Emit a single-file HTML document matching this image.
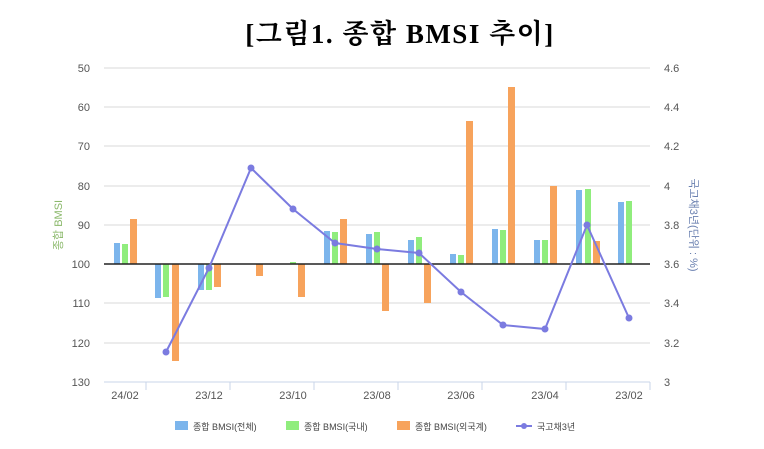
<!DOCTYPE html>
<html><head><meta charset="utf-8"><style>
body{margin:0;background:#fff;width:764px;height:444px;overflow:hidden}
svg text{font-family:"Liberation Sans","Noto Sans CJK KR",sans-serif}
</style></head><body>
<svg width="764" height="444" xmlns="http://www.w3.org/2000/svg">
<text x="400" y="43" text-anchor="middle" font-size="27" font-weight="bold" letter-spacing="1.5" style="font-family:'Liberation Serif','Noto Serif CJK SC',serif">[그림1.  종합  BMSI  추이]</text>
<g stroke="#d8d8d8" stroke-width="1">
<line x1="104" y1="68" x2="650" y2="68"/><line x1="104" y1="107" x2="650" y2="107"/>
<line x1="104" y1="146" x2="650" y2="146"/><line x1="104" y1="186" x2="650" y2="186"/>
<line x1="104" y1="225" x2="650" y2="225"/><line x1="104" y1="303" x2="650" y2="303"/>
<line x1="104" y1="343" x2="650" y2="343"/>
</g>
<line x1="104" y1="382" x2="650" y2="382" stroke="#c8d4e8"/>
<g stroke="#c8d4e8"><line x1="146" y1="382" x2="146" y2="390"/><line x1="230" y1="382" x2="230" y2="390"/><line x1="314" y1="382" x2="314" y2="390"/><line x1="398" y1="382" x2="398" y2="390"/><line x1="482" y1="382" x2="482" y2="390"/><line x1="566" y1="382" x2="566" y2="390"/><line x1="650" y1="382" x2="650" y2="390"/></g>
<g font-size="11" fill="#555" text-anchor="end">
<text x="90" y="72">50</text><text x="90" y="111">60</text><text x="90" y="150">70</text><text x="90" y="190">80</text><text x="90" y="229">90</text><text x="90" y="268">100</text><text x="90" y="307">110</text><text x="90" y="347">120</text><text x="90" y="386">130</text>
</g>
<g font-size="11" fill="#555">
<text x="664" y="72">4.6</text><text x="664" y="111">4.4</text><text x="664" y="150">4.2</text><text x="664" y="190">4</text><text x="664" y="229">3.8</text><text x="664" y="268">3.6</text><text x="664" y="307">3.4</text><text x="664" y="347">3.2</text><text x="664" y="386">3</text>
</g>
<g font-size="11" fill="#555" text-anchor="middle">
<text x="125" y="399">24/02</text><text x="209" y="399">23/12</text><text x="293" y="399">23/10</text><text x="377" y="399">23/08</text><text x="461" y="399">23/06</text><text x="545" y="399">23/04</text><text x="629" y="399">23/02</text>
</g>
<text transform="translate(62,225) rotate(-90)" font-size="11" fill="#8ab86a" text-anchor="middle">종합 BMSI</text>
<text transform="translate(690,225) rotate(90)" font-size="11" fill="#6a80b0" text-anchor="middle">국고채3년(단위 : %)</text>
<g>
<g fill="#7cb5ec">
<rect x="114" y="243" width="6" height="21"/><rect x="155" y="264" width="6" height="34"/><rect x="198" y="264" width="6" height="26"/>
<rect x="324" y="231" width="6" height="33"/><rect x="366" y="234" width="6" height="30"/><rect x="408" y="240" width="6" height="24"/>
<rect x="450" y="254" width="6" height="10"/><rect x="492" y="229" width="6" height="35"/><rect x="534" y="240" width="6" height="24"/>
<rect x="576" y="190" width="6" height="74"/><rect x="618" y="202" width="6" height="62"/>
</g>
<g fill="#90ed7d">
<rect x="122" y="244" width="6" height="20"/><rect x="163" y="264" width="6" height="33"/><rect x="206" y="264" width="6" height="26"/>
<rect x="290" y="262" width="6" height="2"/>
<rect x="332" y="232" width="6" height="32"/><rect x="374" y="232" width="6" height="32"/><rect x="416" y="237" width="6" height="27"/>
<rect x="458" y="255" width="6" height="9"/><rect x="500" y="230" width="6" height="34"/><rect x="542" y="240" width="6" height="24"/>
<rect x="585" y="189" width="6" height="75"/><rect x="626" y="201" width="6" height="63"/>
</g>
<g fill="#f7a35c">
<rect x="130" y="219" width="7" height="45"/><rect x="172" y="264" width="7" height="97"/><rect x="214" y="264" width="7" height="23"/>
<rect x="256" y="264" width="7" height="12"/><rect x="298" y="264" width="7" height="33"/><rect x="340" y="219" width="7" height="45"/>
<rect x="382" y="264" width="7" height="47"/><rect x="424" y="264" width="7" height="39"/><rect x="466" y="121" width="7" height="143"/>
<rect x="508" y="87" width="7" height="177"/><rect x="550" y="186" width="7" height="78"/><rect x="593" y="241" width="7" height="23"/>
</g>
</g>
<line x1="104" y1="264" x2="650" y2="264" stroke="#222" stroke-width="1.5"/>
<polyline fill="none" stroke="#7b7be0" stroke-width="2" points="166,352 209,268 251,168 293,209 335,243 377,249 419,253 461,292 503,325 545,329 587,225 629,318"/>
<g fill="#7b7be0">
<circle cx="166" cy="352" r="3.5"/><circle cx="209" cy="268" r="3.5"/><circle cx="251" cy="168" r="3.5"/><circle cx="293" cy="209" r="3.5"/><circle cx="335" cy="243" r="3.5"/><circle cx="377" cy="249" r="3.5"/><circle cx="419" cy="253" r="3.5"/><circle cx="461" cy="292" r="3.5"/><circle cx="503" cy="325" r="3.5"/><circle cx="545" cy="329" r="3.5"/><circle cx="587" cy="225" r="3.5"/><circle cx="629" cy="318" r="3.5"/>
</g>
<g font-size="9" fill="#444">
<rect x="175" y="421" width="13" height="9" fill="#7cb5ec"/><text x="193" y="430">종합 BMSI(전체)</text>
<rect x="286" y="421" width="13" height="9" fill="#90ed7d"/><text x="304" y="430">종합 BMSI(국내)</text>
<rect x="397" y="421" width="13" height="9" fill="#f7a35c"/><text x="415" y="430">종합 BMSI(외국계)</text>
<line x1="516" y1="426" x2="532" y2="426" stroke="#7b7be0" stroke-width="2"/><circle cx="524" cy="426" r="3" fill="#7b7be0"/>
<text x="537" y="430">국고채3년</text>
</g>
</svg>
</body></html>
